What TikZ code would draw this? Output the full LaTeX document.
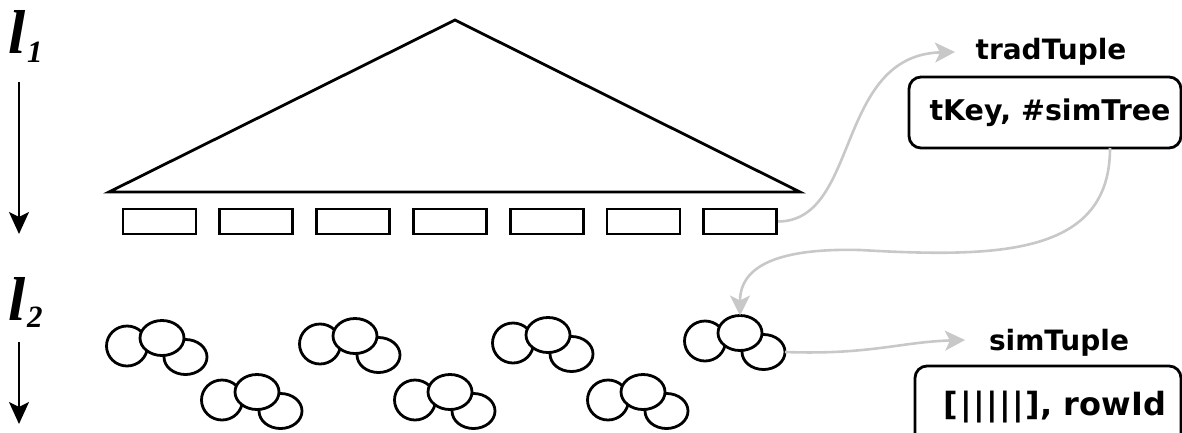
\documentclass[tikz,border=0pt]{standalone}
\usepackage{fontspec}
\setmainfont{Liberation Serif}
\newfontfamily\boxfont{DejaVu Sans}
\usetikzlibrary{arrows.meta}
\definecolor{linkgray}{RGB}{200,200,200}
\begin{document}
\begin{tikzpicture}[x=1pt,y=-1pt,
  ln/.style={line width=2.8pt,draw=black},
  leaf/.style={ln,minimum width=73pt,minimum height=25pt,inner sep=0pt},
  tupbox/.style={ln,rounded corners=12pt,inner sep=0pt,font=\boxfont\bfseries\fontsize{28.5}{30}\selectfont},
  tuplabel/.style={inner sep=0pt,font=\boxfont\bfseries\fontsize{28}{30}\selectfont},
  link/.style={draw=linkgray,line width=2.6pt,-{Stealth[length=20pt,width=20pt,inset=5pt]}},
  lvl/.style={line width=1.8pt,-{Stealth[length=22pt,width=20pt,inset=5pt]}},
  lname/.style={inner sep=0pt,anchor=base west,font=\bfseries\itshape\fontsize{62}{64}\selectfont},
  lsub/.style={inner sep=0pt,anchor=base west,font=\bfseries\itshape\fontsize{31}{32}\selectfont},
  cloudpic/.pic={
    \filldraw[ln,fill=white] (-35,8) ellipse [x radius=20.5pt,y radius=20pt];
    \filldraw[ln,fill=white] (23.5,19) ellipse [x radius=21.5pt,y radius=17.5pt];
    \filldraw[ln,fill=white] (0,0) ellipse [x radius=22pt,y radius=17.5pt];
    \coordinate (-top) at (0,-17.5);
    \coordinate (-right) at (45,19);
  }]
\clip (0,0) rectangle (1182,432);
\useasboundingbox (0,0) rectangle (1182,432);

% level labels
\node[lname] (l1) at (8,53) {l};
\node[lsub] (l1s) at (27,62) {1};
\node[lname] (l2) at (8,320) {l};
\node[lsub] (l2s) at (27,327) {2};
\coordinate (a1s) at (19,82);
\coordinate (a1e) at (19,234);
\coordinate (a2s) at (19,342);
\coordinate (a2e) at (19,424);
\draw[lvl] (a1s) -- (a1e);
\draw[lvl] (a2s) -- (a2e);

% tree
\coordinate (apex) at (455,20);
\coordinate (bl) at (109,192);
\coordinate (br) at (800,192);
\draw[ln,line join=miter] (apex) -- (bl) -- (br) -- cycle;

\foreach \i in {1,...,7} {
  \node[leaf] (r\i) at ({123+36.5+(\i-1)*96.8},221.5) {};
}

% clouds
\pic (c1) at (162,338) {cloudpic};
\pic (c2) at (355,336) {cloudpic};
\pic (c3) at (548,335) {cloudpic};
\pic (c4) at (740,333) {cloudpic};
\pic (c5) at (257,392) {cloudpic};
\pic (c6) at (450,392) {cloudpic};
\pic (c7) at (643,392) {cloudpic};

% tuples
\node[tuplabel] (trad) at (1051,52) {tradTuple};
\node[tupbox,minimum width=272pt,minimum height=71pt] (tk) at (1045,112.5) {\hspace*{10pt}tKey, \#simTree};
\node[tuplabel] (sim) at (1059,343) {simTuple};
\node[tupbox,minimum width=266pt,minimum height=82pt,font=\boxfont\bfseries\fontsize{32}{34}\selectfont] (sk) at (1048,407) {\hspace*{14pt}[\kern1.5pt|\kern1.5pt|\kern1.5pt|\kern1.5pt|\kern1.5pt|\kern1.5pt], rowId};

% links
\coordinate (t1) at (955,52);
\coordinate (tkb) at (1110,148);
\coordinate (mid) at (860,250);
\coordinate (t3) at (965,340);
\draw[link] (r7.east) .. controls (860,221) and (835,55) .. (t1);
\draw[link] (tkb) .. controls (1110,255) and (1000,258) .. (mid) .. controls (780,248) and (740,265) .. (c4-top);
\draw[link] (c4-right) .. controls (870,355) and (900,342) .. (t3);
\end{tikzpicture}
\end{document}
